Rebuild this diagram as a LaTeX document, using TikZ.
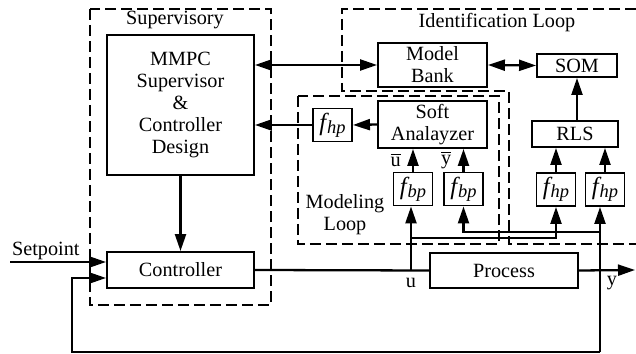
\documentclass[tikz,border=0pt]{standalone}
\usepackage{fontspec}
\setmainfont{Liberation Serif}
\usetikzlibrary{arrows.meta}
\newcommand{\fsub}[1]{{\fontsize{14}{14}\selectfont\itshape f}\kern0.5pt\raisebox{-0.3ex}{\fontsize{10.5}{12}\selectfont\itshape #1}}

\begin{document}
\begin{tikzpicture}[x=0.02cm, y=-0.02cm,
    font=\fontsize{11.5}{12.5}\selectfont,
    blk/.style={rectangle, draw, line width=1.1pt, align=center, inner sep=1pt},
    fbox/.style={blk, minimum width=0.78cm, minimum height=0.66cm},
    loopbox/.style={dash pattern=on 0.22cm off 0.1cm, line width=0.7pt},
    wire/.style={line width=1.3pt},
    arr/.style={wire, -{Triangle[length=0.34cm, width=0.22cm]}},
    darr/.style={wire, {Triangle[length=0.34cm, width=0.22cm]}-{Triangle[length=0.34cm, width=0.22cm]}}]
    \useasboundingbox (0,0) rectangle (636,354);

    % Loops
    \draw[loopbox] (90,9) rectangle (271,305);
    \draw[loopbox] (298,96) rectangle (499,244);
    \draw[loopbox] (636,9) -- (342,9) -- (342,91) -- (509,91) -- (509,244) -- (636,244);

    % Main components
    \node [blk, minimum width=2.94cm, minimum height=2.8cm] (mmpc) at (180.5,105) {MMPC\\Supervisor\\\&\\Controller\\Design};
    \node [blk, minimum width=2.94cm, minimum height=0.72cm] (ctrl) at (180.5,270) {Controller};
    \node [blk, minimum width=2.18cm, minimum height=0.88cm] (bank) at (432.5,65) {Model\\Bank};
    \node [blk, minimum width=1.6cm, minimum height=0.46cm] (som) at (577,65.5) {SOM};
    \node [blk, minimum width=2.18cm, minimum height=0.94cm] (soft) at (432.5,124.5) {Soft\\Analayzer};
    \node [blk, minimum width=1.72cm, minimum height=0.52cm] (rls) at (575,134) {RLS};
    \node [blk, minimum width=2.96cm, minimum height=0.7cm] (proc) at (504,270.5) {Process};

    % Filters
    \node [fbox] (fhpA) at (332.5,125) {\fsub{hp}};
    \node [fbox] (fbpA) at (413,189) {\fsub{bp}};
    \node [fbox] (fbpB) at (463.5,189) {\fsub{bp}};
    \node [fbox] (fhpC) at (556,189.5) {\fsub{hp}};
    \node [fbox] (fhpD) at (605,189.5) {\fsub{hp}};

    % Taps
    \coordinate (sp) at (10,262);
    \coordinate (u) at (411,270);
    \coordinate (out) at (635,270);
    \coordinate (fbk) at (600,352);
    \coordinate (fbl) at (72,352);

    % Arrows
    \draw[darr] (mmpc.east |- bank) -- (bank.west);
    \draw[darr] (bank.east) -- (som.west);
    \draw[arr] (rls.north -| som) -- (som.south);
    \draw[arr] (soft.west) -- (fhpA.east);
    \draw[arr] (fhpA.west) -- (fhpA.west -| mmpc.east);
    \draw[arr] (mmpc) -- (ctrl);
    \draw[arr] (fbpA.north) -- (fbpA.north |- soft.south) node [midway, left=3pt] {$\overline{\mbox{u}}$};
    \draw[arr] (fbpB.north) -- (fbpB.north |- soft.south) node [midway, left=3pt] {$\overline{\mbox{y}}$};
    \draw[arr] (fhpC.north) -- (fhpC.north |- rls.south);
    \draw[arr] (fhpD.north) -- (fhpD.north |- rls.south);
    \draw[arr] (sp) -- (sp -| ctrl.west);
    \draw[wire] (ctrl.east) -- (proc.west);
    \draw[arr] (proc.east) -- (out);
    \draw[arr] (u) -- (u |- fbpA.south);
    \draw[arr] (u |- 0,238) -| (fhpC.south);
    \draw[arr] (fbk) -- (fbk |- fhpD.south);
    \draw[arr] (fbk |- 0,232) -| (fbpB.south);
    \draw[arr] (fbk) -- (fbl) |- (ctrl.west |- 0,278);

    % Labels
    \node (suplbl) at (175,20) {Supervisory};
    \node (idlbl) at (497,23) {Identification Loop};
    \node [align=center] (modlbl) at (345,215) {Modeling\\Loop};
    \node (ulbl) at (411,283) {u};
    \node (ylbl) at (612,283) {y};
    \node [anchor=south west, inner sep=1pt] (splbl) at (sp) {Setpoint};
\end{tikzpicture}
\end{document}
